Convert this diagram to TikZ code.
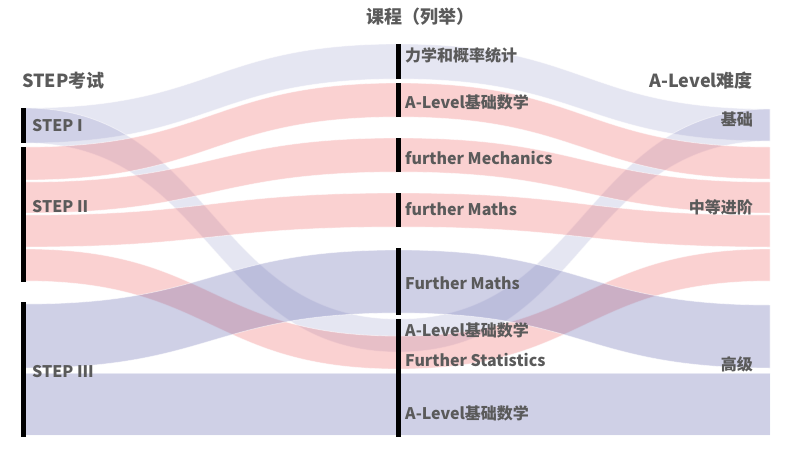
\documentclass[tikz,border=0pt]{standalone}
\usepackage{fontspec}
\setmainfont{Noto Sans CJK SC}
\definecolor{txt}{RGB}{90,90,90}
\definecolor{pinkbase}{RGB}{238,102,102}
\definecolor{bluebase}{RGB}{95,98,172}
\newcommand{\flow}[7]{%
  \filldraw[#1] (#2,#3) .. controls ({(#2+#5)/2},#3) and ({(#2+#5)/2},#6) .. (#5,#6)
    -- (#5,#7) .. controls ({(#2+#5)/2},#7) and ({(#2+#5)/2},#4) .. (#2,#4) -- cycle;}
\tikzset{
  lightflow/.style={fill=bluebase, fill opacity=0.16, draw=white, draw opacity=0.5, line width=0.8pt},
  midflow/.style={fill=bluebase, fill opacity=0.3, draw=white, draw opacity=0.5, line width=0.8pt},
  pinkflow/.style={fill=pinkbase, fill opacity=0.3, draw=white, draw opacity=0.5, line width=0.8pt},
  bar/.style={fill=black, draw=none},
  title/.style={font=\bfseries\fontsize{18}{20}\selectfont, text=txt, inner sep=0pt},
  lab/.style={font=\bfseries\fontsize{16}{18}\selectfont, text=txt, inner sep=0pt},
}
\begin{document}
\begin{tikzpicture}[x=1pt, y=-1pt]
\useasboundingbox (0,0) rectangle (793,455);
% left -> middle
\flow{lightflow}{25}{108}{143}{398.5}{44}{79}
\flow{lightflow}{25}{108}{143}{398.5}{319}{352}
\flow{pinkflow}{25}{147}{180}{398.5}{83}{117}
\flow{pinkflow}{25}{182}{213}{398.5}{138}{172}
\flow{pinkflow}{25}{215}{247}{398.5}{193}{227}
\flow{pinkflow}{25}{249}{281}{398.5}{336}{369}
\flow{midflow}{25}{304}{368}{398.5}{250}{313}
\flow{midflow}{25}{373}{435}{398.5}{373}{435}
% middle -> right
\flow{lightflow}{398.5}{44}{79}{770}{109}{141}
\flow{lightflow}{398.5}{319}{352}{770}{109}{141}
\flow{pinkflow}{398.5}{83}{117}{770}{147}{179}
\flow{pinkflow}{398.5}{138}{172}{770}{182}{213}
\flow{pinkflow}{398.5}{193}{227}{770}{215}{247}
\flow{pinkflow}{398.5}{336}{369}{770}{249}{281}
\flow{midflow}{398.5}{250}{313}{770}{305}{368}
\flow{midflow}{398.5}{373}{435}{770}{373}{435}
% bars
\fill[bar] (21,108) rectangle (25.5,143);
\fill[bar] (21,147) rectangle (25.5,282);
\fill[bar] (21,302) rectangle (25.5,437);
\fill[bar] (396,44) rectangle (400.5,79);
\fill[bar] (396,83) rectangle (400.5,117);
\fill[bar] (396,138) rectangle (400.5,172);
\fill[bar] (396,193) rectangle (400.5,227);
\fill[bar] (396,248) rectangle (400.5,315);
\fill[bar] (396,319) rectangle (400.5,437);
% titles
\node[title, anchor=west] (t1) at (22,80.5) {STEP考试};
\node[title, anchor=center] (t2) at (420.5,16.5) {课程（列举）};
\node[title, anchor=east] (t3) at (753,80.5) {A-Level难度};
% left labels
\node[lab, anchor=west] (s1) at (32,125.5) {STEP I};
\node[lab, anchor=west] (s2) at (32,207) {STEP II};
\node[lab, anchor=west] (s3) at (32,371.5) {STEP III};
% middle labels
\node[lab, anchor=west] (m1) at (405,55.5) {力学和概率统计};
\node[lab, anchor=west] (m2) at (405,102) {A-Level基础数学};
\node[lab, anchor=west] (m3) at (405,157.5) {further Mechanics};
\node[lab, anchor=west] (m4) at (405,209) {further Maths};
\node[lab, anchor=west] (m5) at (405,283) {Further Maths};
\node[lab, anchor=west] (m6) at (405,330.5) {A-Level基础数学};
\node[lab, anchor=west] (m7) at (405,360) {Further Statistics};
\node[lab, anchor=west] (m8) at (405,413) {A-Level基础数学};
% right labels
\node[lab, anchor=east] (r1) at (753,119) {基础};
\node[lab, anchor=east] (r2) at (753,207.5) {中等进阶};
\node[lab, anchor=east] (r3) at (753,364) {高级};
\end{tikzpicture}
\end{document}
